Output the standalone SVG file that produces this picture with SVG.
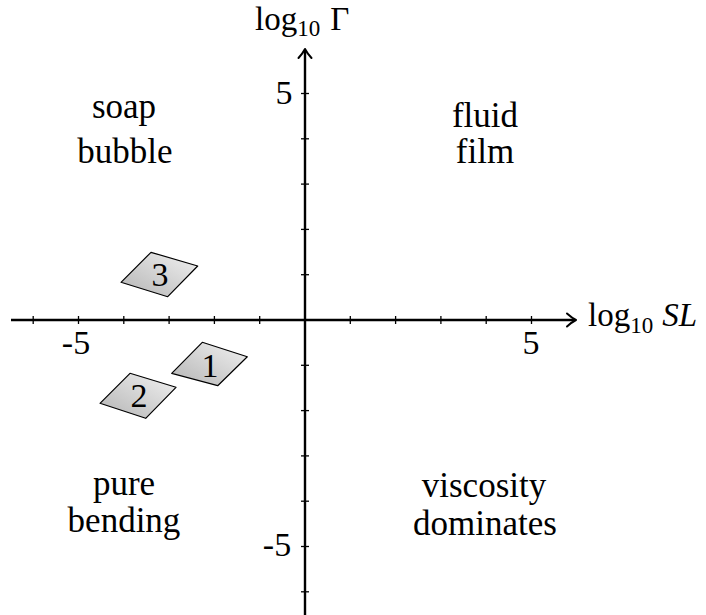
<svg xmlns="http://www.w3.org/2000/svg" width="706" height="615" viewBox="0 0 706 615">
<defs>
<linearGradient id="shade" x1="0" y1="1" x2="1" y2="0">
<stop offset="0" stop-color="#b4b4b4"/>
<stop offset="1" stop-color="#f2f2f2"/>
</linearGradient>
<style>
text{fill:#000;font-family:"Liberation Serif","Times New Roman",serif}
.lbl{font-size:35px;text-anchor:middle}
.num{font-size:34px;text-anchor:middle}
.ax{font-size:33px}
.sub{font-size:23px}
.axis{stroke:#000;stroke-width:2.4;fill:none}
.tick{stroke:#000;stroke-width:1.3}
.arrow{stroke:#000;stroke-width:2;fill:none;stroke-linecap:round;stroke-linejoin:round}
.box{fill:url(#shade);stroke:#000;stroke-width:1.2;stroke-linejoin:round}
</style>
</defs>
<rect width="706" height="615" fill="#fff"/>
<g id="connectors">
<line class="axis" x1="11" y1="320" x2="575" y2="320"/>
<path class="arrow" d="M567,313.5 Q572,318 576,320 Q572,322 567,326.5"/>
<line class="axis" x1="305" y1="615" x2="305" y2="51"/>
<path class="arrow" d="M298.5,58 Q303,53 305,49 Q307,53 311.5,58"/>
<g class="tick">
<line x1="33.2" y1="316" x2="33.2" y2="324"/>
<line x1="78.5" y1="316" x2="78.5" y2="324"/>
<line x1="123.8" y1="316" x2="123.8" y2="324"/>
<line x1="169.1" y1="316" x2="169.1" y2="324"/>
<line x1="214.4" y1="316" x2="214.4" y2="324"/>
<line x1="259.7" y1="316" x2="259.7" y2="324"/>
<line x1="350.3" y1="316" x2="350.3" y2="324"/>
<line x1="395.6" y1="316" x2="395.6" y2="324"/>
<line x1="440.9" y1="316" x2="440.9" y2="324"/>
<line x1="486.2" y1="316" x2="486.2" y2="324"/>
<line x1="531.5" y1="316" x2="531.5" y2="324"/>
<line x1="301" y1="93.5" x2="309" y2="93.5"/>
<line x1="301" y1="138.8" x2="309" y2="138.8"/>
<line x1="301" y1="184.1" x2="309" y2="184.1"/>
<line x1="301" y1="229.4" x2="309" y2="229.4"/>
<line x1="301" y1="274.7" x2="309" y2="274.7"/>
<line x1="301" y1="365.3" x2="309" y2="365.3"/>
<line x1="301" y1="410.6" x2="309" y2="410.6"/>
<line x1="301" y1="455.9" x2="309" y2="455.9"/>
<line x1="301" y1="501.2" x2="309" y2="501.2"/>
<line x1="301" y1="546.5" x2="309" y2="546.5"/>
<line x1="301" y1="591.8" x2="309" y2="591.8"/>
</g>
</g>
<g id="axis-labels">
<text class="ax" x="255" y="30">log<tspan class="sub" dy="6">10</tspan><tspan dy="-6" dx="10">Γ</tspan></text>
<text class="ax" x="588" y="326">log<tspan class="sub" dy="7">10</tspan><tspan dy="-7" dx="9" font-style="italic">SL</tspan></text>
<text class="num" x="76" y="354">-5</text>
<text class="num" x="531" y="354">5</text>
<text class="num" x="284" y="104">5</text>
<text class="num" x="277" y="556">-5</text>
</g>
<g id="region-soap">
<text class="lbl" x="124" y="118">soap</text>
<text class="lbl" x="125" y="163">bubble</text>
</g>
<g id="region-fluid">
<text class="lbl" x="485" y="127">fluid</text>
<text class="lbl" x="485" y="163">film</text>
</g>
<g id="region-pure">
<text class="lbl" x="124" y="495">pure</text>
<text class="lbl" x="124" y="532">bending</text>
</g>
<g id="region-viscosity">
<text class="lbl" x="484" y="497">viscosity</text>
<text class="lbl" x="485" y="535">dominates</text>
</g>
<g id="node-3">
<polygon class="box" points="121,282.3 151,252.3 197.7,266 167.7,296.7"/>
<text class="num" x="160" y="286">3</text>
</g>
<g id="node-1">
<polygon class="box" points="171.7,373.3 202.3,342.3 247.3,356.7 217.7,385.7"/>
<text class="num" x="210" y="377">1</text>
</g>
<g id="node-2">
<polygon class="box" points="100,403.3 130,373.3 176,387.3 145.7,418.3"/>
<text class="num" x="139" y="407">2</text>
</g>
</svg>
